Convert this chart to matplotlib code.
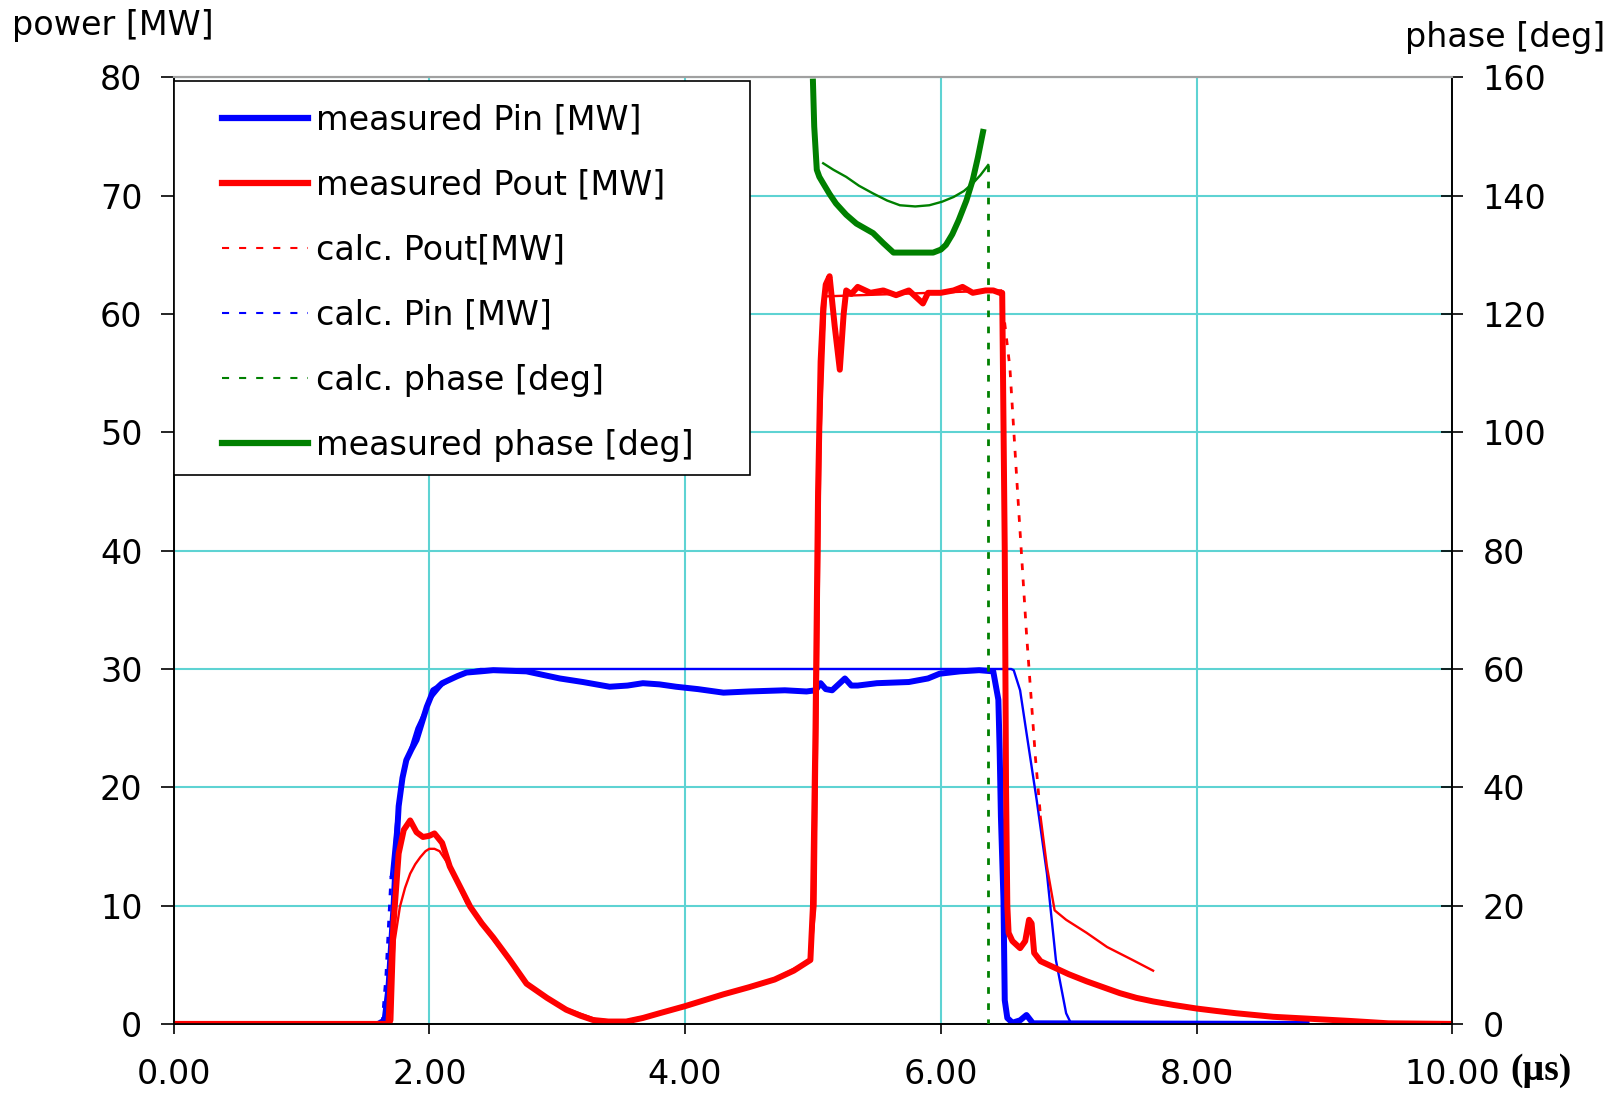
import numpy as np
import matplotlib
matplotlib.use('Agg')
import matplotlib.pyplot as plt
from matplotlib.lines import Line2D
from matplotlib.patches import Rectangle
from matplotlib.ticker import FormatStrFormatter

# time axis in microseconds, power in MW, phase in degrees
t_pin_meas = [1.60, 1.65, 1.68, 1.70, 1.72, 1.74, 1.76, 1.79, 1.82, 1.86, 1.90, 1.94,
              1.98, 2.01, 2.03, 2.06, 2.10, 2.16, 2.22, 2.29, 2.40, 2.50, 2.76, 3.02,
              3.20, 3.41, 3.55, 3.67, 3.80, 3.93, 4.10, 4.30, 4.50, 4.78, 4.95, 5.02,
              5.06, 5.10, 5.15, 5.20, 5.25, 5.30, 5.35, 5.50, 5.75, 5.90, 5.99, 6.15,
              6.30, 6.41, 6.45, 6.46, 6.47, 6.49, 6.50, 6.52, 6.56, 6.62, 6.67, 6.72,
              8.86]
pin_meas = [0.0, 0.3, 3.0, 6.5, 9.9, 14.5, 18.4, 20.8, 22.3, 23.2, 24.0, 25.4,
            26.8, 27.6, 28.2, 28.4, 28.8, 29.1, 29.4, 29.7, 29.8, 29.9, 29.8, 29.2,
            28.9, 28.5, 28.6, 28.8, 28.7, 28.5, 28.3, 28.0, 28.1, 28.2, 28.1, 28.2,
            28.8, 28.3, 28.2, 28.7, 29.2, 28.6, 28.6, 28.8, 28.9, 29.2, 29.6, 29.8,
            29.9, 29.8, 27.4, 23.2, 17.5, 10.5, 2.0, 0.5, 0.1, 0.3, 0.75, 0.05,
            0.0]

t_pout_meas = [0.0, 1.68, 1.72, 1.76, 1.80, 1.85, 1.90, 1.95, 2.00, 2.04, 2.10, 2.16,
               2.24, 2.32, 2.41, 2.50, 2.63, 2.76, 2.92, 3.07, 3.18, 3.28, 3.40, 3.54,
               3.67, 3.80, 4.00, 4.30, 4.50, 4.70, 4.85, 4.98, 5.00, 5.02, 5.04, 5.06,
               5.08, 5.10, 5.13, 5.17, 5.21, 5.24, 5.26, 5.30, 5.35, 5.45, 5.55, 5.65,
               5.75, 5.82, 5.86, 5.90, 6.00, 6.10, 6.17, 6.25, 6.35, 6.41, 6.46, 6.48,
               6.50, 6.51, 6.52, 6.53, 6.56, 6.62, 6.66, 6.69, 6.71, 6.73, 6.78, 6.88,
               7.00, 7.14, 7.27, 7.40, 7.53, 7.66, 7.82, 8.00, 8.15, 8.31, 8.60, 8.86,
               9.20, 9.50, 10.0]
pout_meas = [0.0, 0.0, 8.5, 14.4, 16.4, 17.2, 16.2, 15.8, 15.9, 16.1, 15.3, 13.3,
             11.6, 9.9, 8.5, 7.3, 5.4, 3.4, 2.2, 1.2, 0.7, 0.33, 0.2, 0.2,
             0.5, 0.9, 1.5, 2.5, 3.1, 3.75, 4.5, 5.4, 10.0, 25.0, 45.0, 56.0,
             60.5, 62.5, 63.2, 59.0, 55.3, 60.0, 62.0, 61.7, 62.3, 61.8, 62.0, 61.6,
             62.0, 61.3, 60.9, 61.8, 61.8, 62.0, 62.3, 61.8, 62.0, 62.0, 61.8, 61.8,
             40.0, 20.0, 10.0, 7.7, 7.0, 6.4, 7.0, 8.8, 8.5, 6.0, 5.3, 4.8,
             4.2, 3.6, 3.1, 2.6, 2.2, 1.9, 1.6, 1.3, 1.1, 0.9, 0.6, 0.45,
             0.25, 0.05, 0.0]

t_pin_calc = [0.0, 1.63, 1.66, 1.70, 1.74, 1.80, 1.90, 2.00, 2.10, 2.20, 2.30, 2.40,
              6.55, 6.57, 6.62, 6.67, 6.75, 6.83, 6.90, 6.98, 7.02, 8.50]
pin_calc = [0.0, 0.0, 4.0, 12.5, 17.0, 21.5, 25.0, 27.3, 28.6, 29.3, 29.8, 30.0,
            30.0, 29.9, 28.2, 24.6, 18.9, 12.7, 5.4, 0.9, 0.0, 0.0]

t_pout_calc = [0.0, 1.70, 1.71, 1.73, 1.77, 1.81, 1.85, 1.89, 1.93, 1.97, 2.00, 2.04,
               2.08, 2.16, 2.29, 2.50, 2.76, 3.02, 3.30, 3.50, 3.80, 4.30, 4.70, 4.98,
               5.02, 5.06, 5.10, 6.47, 6.54, 6.60, 6.67, 6.74, 6.78, 6.83, 6.89, 6.98,
               7.14, 7.30, 7.50, 7.66]
pout_calc = [0.0, 0.0, 0.3, 7.1, 9.9, 11.5, 12.7, 13.5, 14.1, 14.6, 14.8, 14.8,
             14.6, 13.3, 10.2, 7.1, 3.4, 1.5, 0.4, 0.2, 0.9, 2.5, 3.8, 5.4,
             10.0, 50.0, 61.5, 62.0, 55.5, 45.0, 33.0, 22.5, 17.5, 13.3, 9.6, 8.8,
             7.7, 6.5, 5.4, 4.5]

t_phase_calc = [5.08, 5.16, 5.26, 5.36, 5.47, 5.58, 5.68, 5.80, 5.91, 6.01, 6.10, 6.18,
                6.25, 6.31, 6.37, 6.37]
phase_calc = [145.5, 144.4, 143.2, 141.7, 140.4, 139.2, 138.4, 138.2, 138.4, 139.0, 139.8, 140.8,
              142.1, 143.5, 145.2, 0.0]

t_phase_meas = [5.00, 5.01, 5.03, 5.05, 5.08, 5.13, 5.18, 5.26, 5.34, 5.47, 5.55, 5.63,
                5.94, 6.00, 6.04, 6.09, 6.14, 6.20, 6.25, 6.29, 6.33]
phase_meas = [159.3, 151.7, 144.4, 143.2, 142.1, 140.3, 138.7, 136.8, 135.3, 133.7, 132.0, 130.4,
              130.4, 130.9, 131.7, 133.5, 135.9, 139.2, 142.7, 146.5, 150.8]

# time windows where the calculated curves are coarsely sampled (drawn dotted)
pin_calc_dotted = (1.63, 1.70)
pout_calc_dotted = (6.47, 6.78)
phase_calc_dotted = (6.37, 6.37)

RED = '#FF0000'
BLUE = '#0000FF'
GREEN = '#008000'
GRID = '#5ED3D3'
DOT = (0, (2.4, 3.4))
FS = 24

plt.rcParams['font.family'] = 'DejaVu Sans'

fig = plt.figure(figsize=(16.2, 10.94), dpi=100)
ax = fig.add_axes([0.10716, 0.06408, 0.78932, 0.86508])
ax2 = ax.twinx()


def calc_line(axis, t, y, color, span):
    t = np.asarray(t)
    y = np.asarray(y)
    i0 = np.searchsorted(t, span[0])
    i1 = np.searchsorted(t, span[1], side='right') - 1
    axis.plot(t[:i0 + 1], y[:i0 + 1], color=color, lw=1.7, zorder=3)
    axis.plot(t[i0:i1 + 1], y[i0:i1 + 1], color=color, lw=2.0, ls=DOT, zorder=3)
    axis.plot(t[i1:], y[i1:], color=color, lw=1.7, zorder=3)


calc_line(ax, t_pin_calc, pin_calc, BLUE, pin_calc_dotted)
ax.plot(t_pin_meas, pin_meas, color=BLUE, lw=4.3, zorder=3)
calc_line(ax, t_pout_calc, pout_calc, RED, pout_calc_dotted)
ax.plot(t_pout_meas, pout_meas, color=RED, lw=4.3, zorder=4)

calc_line(ax2, t_phase_calc, phase_calc, GREEN, phase_calc_dotted)
ax2.plot(t_phase_meas, phase_meas, color=GREEN, lw=4.3, zorder=3)

ax.set_xlim(0, 10)
ax.set_ylim(0, 80)
ax2.set_ylim(0, 160)
ax.set_xticks(np.arange(0, 10.1, 2))
ax.set_yticks(np.arange(0, 81, 10))
ax2.set_yticks(np.arange(0, 161, 20))
ax.xaxis.set_major_formatter(FormatStrFormatter('%.2f'))

ax.grid(True, color=GRID, lw=1.5, zorder=0)
ax.set_axisbelow(True)

ax.tick_params(axis='y', direction='out', length=9.4, width=1.2, pad=13, labelsize=FS)
ax.tick_params(axis='x', direction='out', length=7.2, width=1.2, pad=17.5, labelsize=FS)
ax2.tick_params(axis='y', direction='inout', length=16.5, width=1.2, pad=13.5, labelsize=FS)

for a in (ax, ax2):
    for side in ('left', 'right', 'bottom'):
        a.spines[side].set_color('black')
        a.spines[side].set_linewidth(1.2)
    a.spines['top'].set_color('#A0A0A0')
    a.spines['top'].set_linewidth(1.5)

fig.text(12 / 1620, 1 - 26 / 1094, 'power [MW]', fontsize=FS, ha='left', va='center')
fig.text(1605 / 1620, 1 - 37 / 1094, 'phase [deg]', fontsize=FS, ha='right', va='center')
fig.text(1541 / 1620, 1 - 1071 / 1094, '(\u00b5s)', fontsize=27, ha='center', va='center',
         family='Liberation Serif', weight='bold')

# legend box sits in the upper left corner of the plot area
ax2.add_patch(Rectangle((0, 0.58), 0.4508, 0.4167, transform=ax2.transAxes,
                        facecolor='white', edgecolor='black', lw=1.2, zorder=8))
handles = [
    Line2D([], [], color=BLUE, lw=4.5),
    Line2D([], [], color=RED, lw=4.5),
    Line2D([], [], color=RED, lw=1.5, ls=(0, (3.4, 4.8))),
    Line2D([], [], color=BLUE, lw=1.5, ls=(0, (3.4, 4.8))),
    Line2D([], [], color=GREEN, lw=1.5, ls=(0, (3.4, 4.8))),
    Line2D([], [], color=GREEN, lw=4.5),
]
labels = ['measured Pin [MW]', 'measured Pout [MW]', 'calc. Pout[MW]',
          'calc. Pin [MW]', 'calc. phase [deg]', 'measured phase [deg]']
leg = ax2.legend(handles, labels, loc='upper left', bbox_to_anchor=(0.0376, 0.9725),
                 frameon=False, fontsize=FS, borderpad=0, borderaxespad=0,
                 handlelength=2.58, handletextpad=0.24, labelspacing=0.96)
leg.set_zorder(9)

fig.savefig('out.png', dpi=100)
